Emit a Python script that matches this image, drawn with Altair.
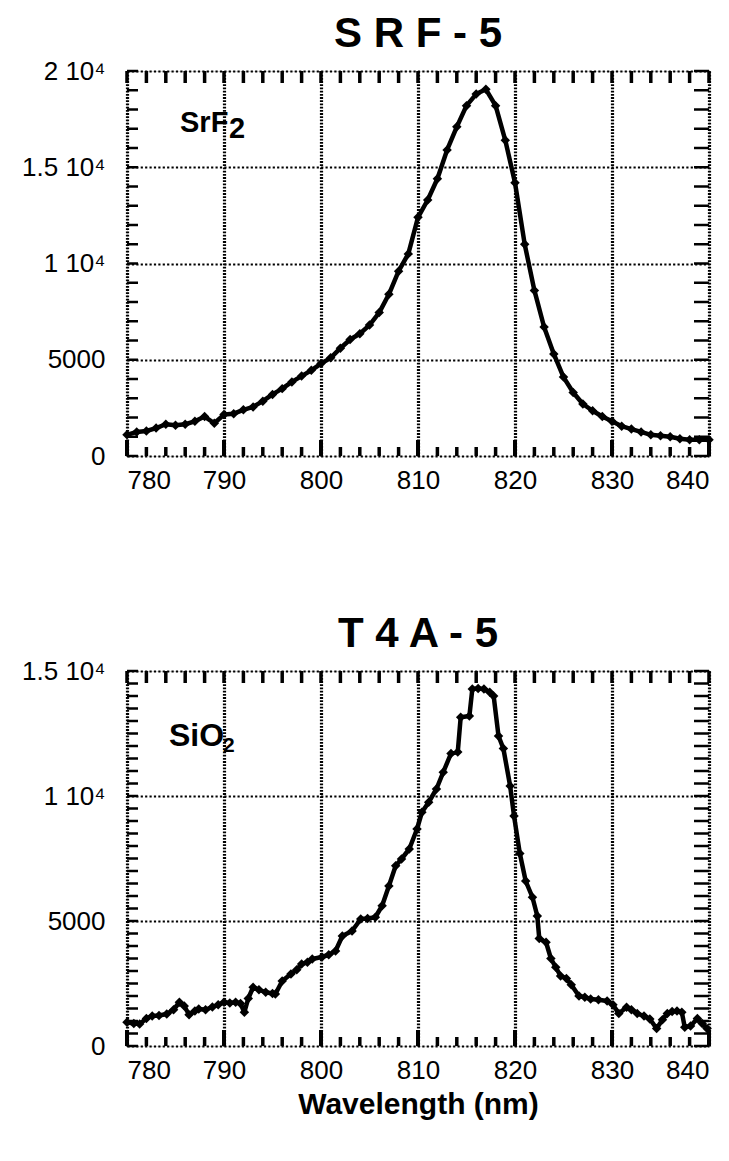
import altair as alt
import pandas as pd

# ---------------- data ----------------
top_wavelength = [780, 781, 782, 783, 784, 785, 786, 787, 788, 789,
                  790, 791, 792, 793, 794, 795, 796, 797, 798, 799,
                  800, 801, 802, 803, 804, 805, 806, 807, 808, 809,
                  810, 811, 812, 813, 814, 815, 816, 817, 818, 819,
                  820, 821, 822, 823, 824, 825, 826, 827, 828, 829,
                  830, 831, 832, 833, 834, 835, 836, 837, 838, 839, 840]
top_counts = [1100, 1250, 1300, 1450, 1650, 1600, 1650, 1800, 2050, 1700,
              2150, 2200, 2400, 2550, 2850, 3200, 3500, 3850, 4150, 4450,
              4800, 5100, 5600, 6050, 6350, 6800, 7450, 8400, 9600, 10500,
              12400, 13300, 14400, 15900, 17100, 18200, 18800, 19050, 18200, 16400,
              14200, 11000, 8600, 6700, 5300, 4100, 3300, 2700, 2350, 2050,
              1800, 1550, 1400, 1250, 1100, 1050, 1000, 900, 850, 850, 850]

bot_wavelength = [780.0, 780.7, 781.3, 782.0, 782.6, 783.3, 784.1, 784.8, 785.4, 785.9,
                  786.4, 787.0, 787.4, 788.1, 788.8, 789.4, 790.0, 790.6, 791.2, 791.7,
                  792.1, 792.5, 793.0, 793.6, 794.3, 795.0, 795.3, 796.0, 796.9, 797.5,
                  798.0, 798.6, 799.1, 800.1, 800.8, 801.5, 802.2, 803.2, 804.1, 804.8,
                  805.6, 806.3, 807.0, 807.7, 808.3, 809.1, 809.9, 810.4, 811.1, 811.9,
                  812.6, 813.4, 814.1, 814.4, 815.3, 815.6, 816.2, 816.8, 817.4, 817.8,
                  818.3, 818.8, 819.5, 819.9, 820.5, 821.1, 821.8, 822.3, 822.5, 823.2,
                  823.7, 824.2, 824.7, 825.3, 825.8, 826.6, 827.2, 827.8, 828.6, 829.5,
                  830.1, 830.7, 831.5, 832.0, 832.6, 833.3, 833.9, 834.6, 835.2, 835.7,
                  836.2, 836.7, 837.2, 837.5, 838.1, 838.8, 839.3, 839.8]
bot_counts = [950, 900, 880, 1100, 1200, 1220, 1280, 1450, 1750, 1600,
              1250, 1400, 1480, 1450, 1560, 1650, 1750, 1720, 1750, 1700,
              1350, 1900, 2350, 2250, 2150, 2100, 2080, 2600, 2880, 3050,
              3280, 3350, 3480, 3560, 3650, 3800, 4400, 4600, 5080, 5100,
              5150, 5610, 6400, 7210, 7480, 7880, 8680, 9350, 9750, 10280,
              10950, 11700, 11760, 13150, 13200, 14280, 14300, 14280, 14150, 14000,
              12400, 11900, 10400, 9200, 7700, 6600, 5950, 5200, 4300, 4150,
              3500, 3150, 2800, 2700, 2450, 2000, 1950, 1880, 1850, 1800,
              1650, 1300, 1550, 1450, 1300, 1200, 1080, 700, 1050, 1300,
              1380, 1400, 1350, 750, 800, 1100, 900, 700]

x_major_ticks = [780, 790, 800, 810, 820, 830, 840]
x_minor_ticks = [780, 782, 784, 786, 788, 790, 792, 794, 796, 798, 800,
                 802, 804, 806, 808, 810, 812, 814, 816, 818, 820,
                 822, 824, 826, 828, 830, 832, 834, 836, 838, 840]
x_tick_labels = ["780", "790", "800", "810", "820", "830", "840"]

top_y_major = [0, 5000, 10000, 15000, 20000]
top_y_labels = ["0", "5000", "1 10⁴", "1.5 10⁴", "2 10⁴"]
top_y_minor = [0, 1000, 2000, 3000, 4000, 5000, 6000, 7000, 8000, 9000, 10000,
               11000, 12000, 13000, 14000, 15000, 16000, 17000, 18000, 19000, 20000]

bot_y_major = [0, 5000, 10000, 15000]
bot_y_labels = ["0", "5000", "1 10⁴", "1.5 10⁴"]
bot_y_minor = [0, 500, 1000, 1500, 2000, 2500, 3000, 3500, 4000, 4500, 5000,
               5500, 6000, 6500, 7000, 7500, 8000, 8500, 9000, 9500, 10000,
               10500, 11000, 11500, 12000, 12500, 13000, 13500, 14000, 14500, 15000]

FONT = "Liberation Sans"
W = 582


def label_expr(vals, labels):
    parts = [f"datum.value == {v} ? '{l}'" for v, l in zip(vals, labels)]
    return " : ".join(parts) + " : ''"


def panel(wl, counts, ymax, y_major, y_labels, y_minor, title, H,
          show_xtitle, chem, chem_sub, chem_size, sub_size,
          chem_pos, sub_pos):
    df = pd.DataFrame({"wl": wl, "counts": counts})
    xscale = alt.Scale(domain=[780, 840], nice=False, zero=False)
    yscale = alt.Scale(domain=[0, ymax], nice=False, zero=True)

    xaxis_kw = dict(values=x_major_ticks, grid=True, gridColor="black",
                    gridDash=[1.8, 1.4], gridWidth=3.2, gridOpacity=1,
                    ticks=False, domain=False, labelFontSize=26,
                    labelPadding=11, labelColor="black", labelFont=FONT,
                    labelExpr=label_expr(x_major_ticks, x_tick_labels))
    if show_xtitle:
        xaxis_kw.update(title="Wavelength (nm)", titleFont=FONT,
                        titleFontSize=30, titleFontWeight="bold",
                        titleColor="black", titlePadding=6)
    else:
        xaxis_kw.update(title="")
    xaxis = alt.Axis(**xaxis_kw)
    yaxis = alt.Axis(values=y_major, grid=True, gridColor="black",
                     gridDash=[2.2, 2.2], gridWidth=2.2, gridOpacity=1,
                     ticks=False, domain=False, labelFontSize=26,
                     labelPadding=22, labelColor="black", labelFont=FONT,
                     labelExpr=label_expr(y_major, y_labels), title="",
                     minExtent=118, maxExtent=118)

    X = lambda f: alt.X(f, scale=xscale, axis=xaxis)
    Y = lambda f: alt.Y(f, scale=yscale, axis=yaxis)

    line = alt.Chart(df).mark_line(color="black", strokeWidth=4.5,
                                   strokeJoin="round", strokeCap="round").encode(
        x=X("wl:Q"), y=Y("counts:Q"), order="wl:Q",
    )
    pts = alt.Chart(df).mark_point(filled=True, shape="diamond", size=90,
                                   color="black", opacity=1).encode(
        x=X("wl:Q"), y=Y("counts:Q"),
    )

    xmin = pd.DataFrame({"t": x_minor_ticks})
    xmaj = pd.DataFrame({"t": x_major_ticks})
    ymin = pd.DataFrame({"t": y_minor})

    def xticks(d, y0, y1, sw):
        return alt.Chart(d).mark_rule(color="black", strokeWidth=sw).encode(
            x=X("t:Q"), y=alt.value(y0), y2=alt.value(y1))

    def yticks(d, x0, x1, sw):
        return alt.Chart(d).mark_rule(color="black", strokeWidth=sw).encode(
            y=Y("t:Q"), x=alt.value(x0), x2=alt.value(x1))

    ticks = [
        xticks(xmin, H, H - 9, 3.5),
        xticks(xmaj, H, H - 16, 4),
        xticks(xmin, 0, 12, 3.5),
        yticks(ymin, 0, 11, 2.5),
        yticks(ymin, W, W - 15, 2.5),
    ]

    chem_df = pd.DataFrame({"label": [chem]})
    sub_df = pd.DataFrame({"label": [chem_sub]})
    chem_txt = alt.Chart(chem_df).mark_text(
        font=FONT, fontSize=chem_size, fontWeight="bold", color="black",
        align="left", baseline="alphabetic").encode(
        x=alt.value(chem_pos[0]), y=alt.value(chem_pos[1]), text="label:N")
    sub_txt = alt.Chart(sub_df).mark_text(
        font=FONT, fontSize=sub_size, fontWeight="bold", color="black",
        align="left", baseline="alphabetic").encode(
        x=alt.value(sub_pos[0]), y=alt.value(sub_pos[1]), text="label:N")

    return alt.layer(line, pts, *ticks, chem_txt, sub_txt).properties(
        width=W, height=H,
        title=alt.TitleParams(title, font=FONT, fontSize=42,
                              fontWeight="bold", color="black",
                              anchor="middle", offset=2),
    )


top = panel(top_wavelength, top_counts, 20000, top_y_major, top_y_labels,
            top_y_minor, "S R F - 5", 385, False, "SrF", "2", 29, 29,
            (53, 61), (102, 67))
bottom = panel(bot_wavelength, bot_counts, 15000, bot_y_major, bot_y_labels,
               bot_y_minor, "T 4 A - 5", 375, True, "SiO", "2", 32, 21,
               (42, 75), (96, 81))

chart = alt.vconcat(top, bottom, spacing=118).properties(
    padding={"left": 0, "top": 4, "right": 0, "bottom": 0}
).configure_view(stroke="black", strokeWidth=3).configure(background="white")

chart.save("out.html", embed_options={"renderer": "svg", "actions": False})
